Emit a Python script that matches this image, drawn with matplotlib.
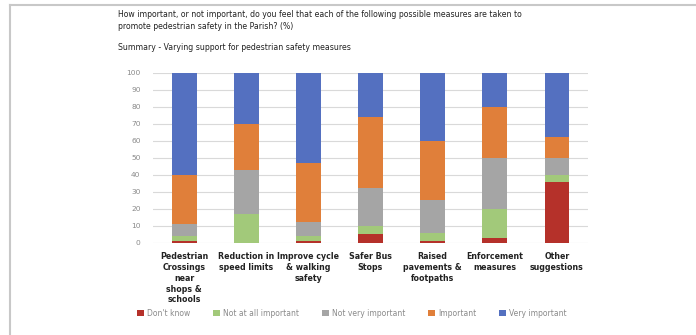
import matplotlib.pyplot as plt
import numpy as np

categories = ["Pedestrian\nCrossings\nnear\nshops &\nschools", "Reduction in\nspeed limits",
              "Improve cycle\n& walking\nsafety", "Safer Bus\nStops",
              "Raised\npavements &\nfootpaths", "Enforcement\nmeasures", "Other\nsuggestions"]
dont_know = [1, 0, 1, 5, 1, 3, 36]
not_at_all = [3, 17, 3, 5, 5, 17, 4]
not_very = [7, 26, 8, 22, 19, 30, 10]
important = [29, 27, 35, 42, 35, 30, 12]
very_important = [60, 30, 53, 26, 40, 20, 38]

series = [("Don't know", dont_know, "#b5312a"),
          ("Not at all important", not_at_all, "#a2c97a"),
          ("Not very important", not_very, "#a5a5a5"),
          ("Important", important, "#e07f3a"),
          ("Very important", very_important, "#5470c0")]

W, H = 696, 335
fig = plt.figure(figsize=(W / 100, H / 100), dpi=100)
fig.patch.set_facecolor("white")

# partial frame (left and top) like the source screenshot
fig.add_artist(plt.Line2D([10 / W, 10 / W], [0, 1 - 5 / H], color="#c8c8c8", lw=1.5))
fig.add_artist(plt.Line2D([10 / W, 1], [1 - 5 / H, 1 - 5 / H], color="#c8c8c8", lw=1.5))

fig.text(118 / W, 1 - 20.5 / H,
         "How important, or not important, do you feel that each of the following possible measures are taken to\n"
         "promote pedestrian safety in the Parish? (%)",
         fontsize=5.6, color="#222222", va="center", linespacing=1.3)
fig.text(118 / W, 1 - 48 / H, "Summary - Varying support for pedestrian safety measures",
         fontsize=5.6, color="#222222", va="center")

ax = fig.add_axes([153 / W, (H - 242.7) / H, 435 / W, 170 / H])
x = np.arange(len(categories))
bottom = np.zeros(len(categories))
handles = []
for name, vals, col in series:
    b = ax.bar(x, vals, width=0.4, bottom=bottom, color=col, label=name, zorder=3)
    handles.append(b)
    bottom += np.array(vals)

ax.set_xlim(-0.5, len(categories) - 0.5)
ax.set_ylim(0, 100)
ax.set_yticks(range(0, 101, 10))
ax.yaxis.grid(True, color="#d9d9d9", lw=0.8, zorder=0)
for s in ax.spines.values():
    s.set_visible(False)
ax.tick_params(axis="y", length=0, labelsize=5.4, labelcolor="#8a8a8a", pad=9)
ax.tick_params(axis="x", length=0, pad=7)
ax.set_xticks(x)
ax.set_xticklabels(categories, fontsize=5.7, fontweight="bold", color="#222222", linespacing=1.25)

fig.legend(handles=handles, loc="center", bbox_to_anchor=(352 / W, 1 - 313 / H), ncol=5,
           frameon=False, fontsize=5.5, handlelength=0.9, handleheight=0.9, handletextpad=0.4,
           columnspacing=3.0, labelcolor="#8a8a8a")

fig.savefig("out.png", dpi=100)
